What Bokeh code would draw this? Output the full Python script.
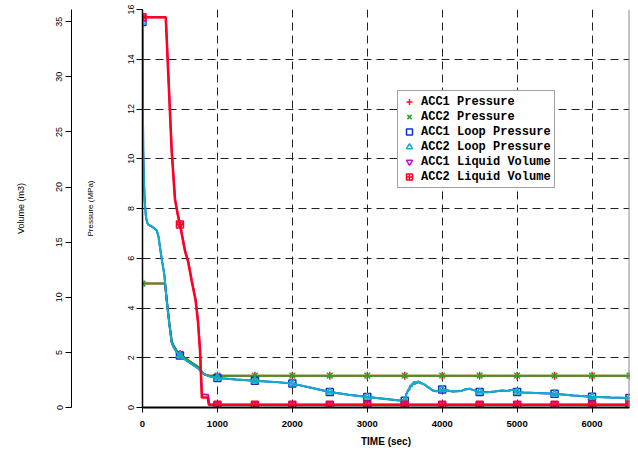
from bokeh.plotting import figure
from bokeh.models import Range1d, LinearAxis, FixedTicker, Legend, LegendItem, Span, Title
from bokeh.embed import file_html
from bokeh.resources import INLINE

# ---------------- data ----------------
x_ticks = [0, 1000, 2000, 3000, 4000, 5000, 6000]
p_ticks = [0, 2, 4, 6, 8, 10, 12, 14, 16]
v_ticks = [0, 5, 10, 15, 20, 25, 30, 35]

marker_time = [0, 500, 1000, 1500, 2000, 2500, 3000, 3500, 4000, 4500, 5000, 5500, 6000, 6500]

# accumulator gas pressures (MPa)
acc_time = [0, 300, 323, 360, 390, 420, 456, 500, 560, 620, 680, 744, 790, 830, 900, 6500]
acc1_p = [4.98, 4.98, 4.36, 3.36, 2.66, 2.46, 2.28, 2.15, 2.01, 1.88, 1.76, 1.63, 1.45, 1.32, 1.28, 1.28]
acc2_p = [4.98, 4.98, 4.36, 3.36, 2.66, 2.46, 2.28, 2.15, 2.01, 1.88, 1.76, 1.63, 1.45, 1.32, 1.28, 1.28]
acc1_p_mark = [4.98, 2.15, 1.28, 1.28, 1.28, 1.28, 1.28, 1.28, 1.28, 1.28, 1.28, 1.28, 1.28, 1.28]
acc2_p_mark = [4.98, 2.15, 1.28, 1.28, 1.28, 1.28, 1.28, 1.28, 1.28, 1.28, 1.28, 1.28, 1.28, 1.28]

# loop pressures (MPa)
loop_time = [
    0, 4, 10, 20, 32, 45, 60, 77, 120, 160,
    190, 215, 233, 260, 290, 323, 360, 390, 420, 456,
    500, 560, 620, 680, 744, 811, 880, 967, 1000, 1250,
    1500, 1750, 2000, 2250, 2500, 2750, 3000, 3250, 3400, 3500,
    3523, 3540, 3550, 3560, 3567, 3575, 3580, 3588, 3595, 3603,
    3611, 3620, 3630, 3638, 3645, 3656, 3665, 3680, 3690, 3700,
    3710, 3722, 3745, 3767, 3790, 3811, 3840, 3878, 3922, 4000,
    4070, 4140, 4250, 4300, 4367, 4420, 4500, 4607, 4700, 4800,
    4870, 4940, 5000, 5080, 5250, 5500, 5750, 6000, 6250, 6500]
loop1_p = [
    15.5, 12.5, 10.3, 9.0, 8.2, 7.7, 7.45, 7.35, 7.28, 7.2,
    7.12, 6.85, 6.45, 5.9, 5.38, 4.3, 3.3, 2.6, 2.4, 2.22,
    2.09, 1.95, 1.82, 1.70, 1.57, 1.36, 1.27, 1.21, 1.19, 1.13,
    1.08, 1.03, 0.96, 0.79, 0.62, 0.51, 0.42, 0.34, 0.29, 0.27,
    0.55, 0.66, 0.72, 0.70, 0.82, 0.86, 0.90, 0.84, 0.86, 0.95,
    0.98, 0.93, 1.04, 0.96, 0.97, 1.02, 0.98, 1.05, 1.00, 1.04,
    0.97, 0.98, 0.94, 0.92, 0.86, 0.82, 0.76, 0.68, 0.65, 0.72,
    0.68, 0.64, 0.66, 0.72, 0.75, 0.70, 0.62, 0.61, 0.64, 0.68,
    0.66, 0.72, 0.62, 0.60, 0.58, 0.55, 0.48, 0.43, 0.40, 0.38]
loop2_p = [
    15.5, 12.5, 10.3, 9.0, 8.2, 7.7, 7.45, 7.35, 7.28, 7.2,
    7.12, 6.85, 6.45, 5.9, 5.38, 4.3, 3.3, 2.6, 2.4, 2.22,
    2.09, 1.95, 1.82, 1.70, 1.57, 1.36, 1.27, 1.21, 1.19, 1.13,
    1.08, 1.03, 0.96, 0.79, 0.62, 0.51, 0.42, 0.34, 0.29, 0.27,
    0.55, 0.66, 0.72, 0.70, 0.82, 0.86, 0.90, 0.84, 0.86, 0.95,
    0.98, 0.93, 1.04, 0.96, 0.97, 1.02, 0.98, 1.05, 1.00, 1.04,
    0.97, 0.98, 0.94, 0.92, 0.86, 0.82, 0.76, 0.68, 0.65, 0.72,
    0.68, 0.64, 0.66, 0.72, 0.75, 0.70, 0.62, 0.61, 0.64, 0.68,
    0.66, 0.72, 0.62, 0.60, 0.58, 0.55, 0.48, 0.43, 0.40, 0.38]
loop1_mark = [15.5, 2.09, 1.19, 1.08, 0.96, 0.62, 0.42, 0.27, 0.72, 0.62, 0.62, 0.55, 0.43, 0.38]
loop2_mark = [15.5, 2.09, 1.19, 1.08, 0.96, 0.62, 0.42, 0.27, 0.72, 0.62, 0.62, 0.55, 0.43, 0.38]

# accumulator liquid volumes (m3)
liq1_time = [0, 312, 391, 435, 472, 502, 569, 612, 658, 711, 742, 769, 782, 794, 878, 892, 6500]
liq1_v = [35.4, 35.4, 23.3, 18.9, 17.5, 16.6, 14.2, 13.2, 11.5, 9.7, 7.8, 5.2, 3.0, 1.2, 1.15, 0.25, 0.25]
liq2_time = [0, 310, 389, 433, 470, 500, 567, 610, 656, 709, 740, 767, 780, 792, 870, 885, 6500]
liq2_v = [35.4, 35.4, 23.3, 18.9, 17.5, 16.6, 14.2, 13.2, 11.5, 9.7, 7.8, 5.2, 3.0, 0.9, 0.9, 0.25, 0.25]
liq1_mark = [35.4, 16.6, 0.25, 0.25, 0.25, 0.25, 0.25, 0.25, 0.25, 0.25, 0.25, 0.25, 0.25, 0.25]
liq2_mark = [35.4, 16.6, 0.25, 0.25, 0.25, 0.25, 0.25, 0.25, 0.25, 0.25, 0.25, 0.25, 0.25, 0.25]

labels = ["ACC1 Pressure", "ACC2 Pressure", "ACC1 Loop Pressure",
          "ACC2 Loop Pressure", "ACC1 Liquid Volume", "ACC2 Liquid Volume"]

# ---------------- styles ----------------
RED = "#ff1020"
GREEN = "#22a822"
BLUE = "#1030d0"
CYAN = "#10b0c8"
MAGENTA = "#c010d0"
RED2 = "#ff0020"
FONT = "Liberation Sans"

p = figure(width=637, height=449, x_range=Range1d(0, 6500), y_range=Range1d(0, 16),
           output_backend="svg", toolbar_location=None,
           min_border_top=9, min_border_right=8, min_border_bottom=0, min_border_left=142)
p.extra_y_ranges = {"vol": Range1d(0, 36.1)}
p.outline_line_color = None
p.background_fill_color = "white"
p.border_fill_color = "white"

for g in (p.xgrid[0], p.ygrid[0]):
    g.grid_line_color = "#222222"
    g.grid_line_dash = "8 5"
    g.grid_line_width = 1
p.xgrid[0].ticker = FixedTicker(ticks=x_ticks)
p.ygrid[0].ticker = FixedTicker(ticks=p_ticks)

xa = p.xaxis[0]
xa.ticker = FixedTicker(ticks=x_ticks)
xa.axis_label = "TIME (sec)"
xa.axis_label_text_font = FONT
xa.axis_label_text_font_size = "10px"
xa.axis_label_text_font_style = "bold"
xa.axis_label_text_color = "black"
xa.axis_label_standoff = 6
xa.major_label_text_font = FONT
xa.major_label_text_font_size = "9.5px"
xa.major_label_text_font_style = "bold"
xa.major_label_text_color = "black"
xa.major_label_standoff = 8
xa.major_tick_out = 5
xa.major_tick_in = 0
xa.minor_tick_out = 0
xa.minor_tick_in = 0
xa.axis_line_width = 2
xa.axis_line_color = "black"
xa.major_tick_line_color = "black"

ya = p.yaxis[0]
ya.ticker = FixedTicker(ticks=p_ticks)
ya.axis_label = "Pressure (MPa)"
ya.axis_label_text_font = FONT
ya.axis_label_text_font_size = "8px"
ya.axis_label_text_font_style = "normal"
ya.axis_label_text_color = "black"
ya.axis_label_standoff = 30
ya.major_label_orientation = "vertical"
ya.major_label_text_font = FONT
ya.major_label_text_font_size = "9px"
ya.major_label_text_color = "black"
ya.major_label_standoff = 3
ya.major_tick_out = 6
ya.major_tick_in = 0
ya.minor_tick_out = 0
ya.minor_tick_in = 0
ya.axis_line_width = 1.5
ya.axis_line_color = "black"
ya.major_tick_line_color = "black"

p.add_layout(Title(text=" ", text_font_size="2px", standoff=7), "left")

va = LinearAxis(y_range_name="vol", ticker=FixedTicker(ticks=v_ticks))
va.axis_label = "Volume (m3)"
va.axis_label_text_font = FONT
va.axis_label_text_font_size = "9px"
va.axis_label_text_font_style = "normal"
va.axis_label_text_color = "black"
va.axis_label_standoff = 28
va.major_label_orientation = "vertical"
va.major_label_text_font = FONT
va.major_label_text_font_size = "9px"
va.major_label_text_color = "black"
va.major_label_standoff = 3
va.major_tick_out = 6
va.major_tick_in = 0
va.minor_tick_out = 0
va.minor_tick_in = 0
va.axis_line_width = 1
va.axis_line_color = "black"
va.major_tick_line_color = "black"
p.add_layout(va, "left")

p.add_layout(Span(location=6500, dimension="height", line_color="#888888", line_width=2))

# ---------------- series ----------------
p.line(acc_time, acc1_p, line_color=RED, line_width=2)
m1 = p.scatter(marker_time, acc1_p_mark, marker="cross", size=8, line_color=RED, line_width=1.5)
p.line(acc_time, acc2_p, line_color=GREEN, line_width=2)
m2 = p.scatter(marker_time, acc2_p_mark, marker="x", size=8, line_color=GREEN, line_width=1.5)
p.line(loop_time, loop1_p, line_color=BLUE, line_width=2)
m3 = p.scatter(marker_time, loop1_mark, marker="square", size=7, line_color=BLUE,
               fill_color=None, line_width=1.5)
p.line(loop_time, loop2_p, line_color=CYAN, line_width=2)
m4 = p.scatter(marker_time, loop2_mark, marker="triangle", size=7, line_color=CYAN,
               fill_color=None, line_width=1.5)
p.line(liq1_time, liq1_v, line_color=MAGENTA, line_width=2, y_range_name="vol")
m5 = p.scatter(marker_time, liq1_mark, marker="inverted_triangle", size=7, line_color=MAGENTA,
               fill_color=None, line_width=1.5, y_range_name="vol")
p.line(liq2_time, liq2_v, line_color=RED2, line_width=2.5, y_range_name="vol")
m6 = p.scatter(marker_time, liq2_mark, marker="square_cross", size=7, line_color=RED2,
               fill_color=None, line_width=1.5, y_range_name="vol")

legend = Legend(items=[LegendItem(label=l, renderers=[r]) for l, r in
                       zip(labels, [m1, m2, m3, m4, m5, m6])],
                location=(255, 219))
legend.label_text_font = "Liberation Mono"
legend.label_text_font_style = "bold"
legend.label_text_font_size = "12px"
legend.label_text_color = "black"
legend.glyph_width = 16
legend.glyph_height = 15
legend.label_height = 14
legend.spacing = 0
legend.padding = 3
legend.label_standoff = 4
legend.margin = 0
legend.border_line_color = "#444444"
legend.border_line_width = 1
legend.background_fill_color = "white"
legend.background_fill_alpha = 1
p.add_layout(legend)

open("out.html", "w").write(file_html(p, INLINE))
